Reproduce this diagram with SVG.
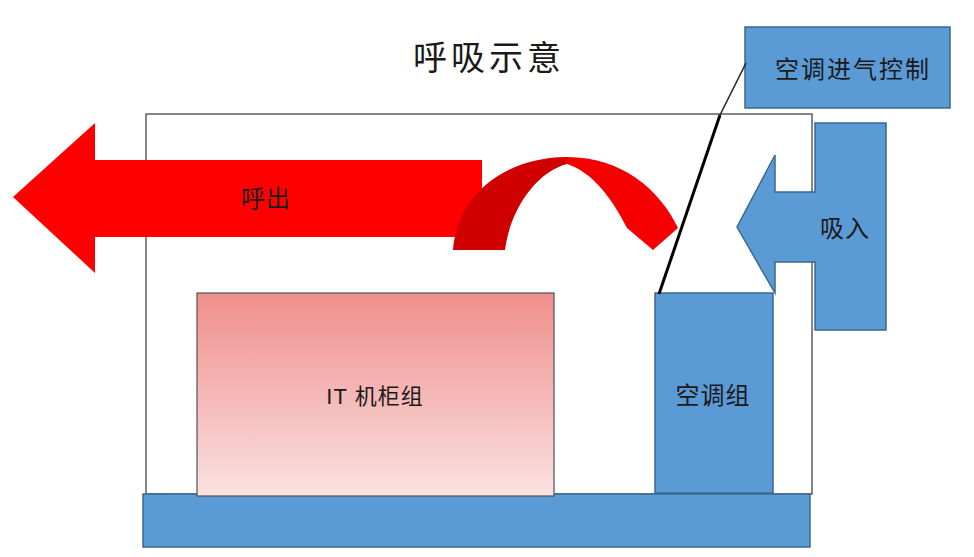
<svg xmlns="http://www.w3.org/2000/svg" width="974" height="557" viewBox="0 0 974 557">
<defs>
<linearGradient id="itg" x1="0" y1="0" x2="0" y2="1">
<stop offset="0" stop-color="#f08e8c"/>
<stop offset="1" stop-color="#f9e2e1"/>
</linearGradient>
<style>
.blue{fill:#5b9bd5;stroke:#3a6890;stroke-width:1.5}
.t{font-family:"Liberation Sans","Noto Sans CJK SC",sans-serif;font-size:24px;fill:#1a1a1a;text-anchor:middle;letter-spacing:1px}
</style>
</defs>
<rect width="974" height="557" fill="#ffffff"/>
<g id="title"><text class="t" x="489" y="70" style="font-size:34px;letter-spacing:4px">呼吸示意</text></g>
<g id="room"><rect x="146" y="114" width="666" height="380" fill="#ffffff" stroke="#5a5f63" stroke-width="1.5"/></g>
<g id="base"><rect class="blue" x="143" y="494" width="667" height="53"/></g>
<g id="it-cabinet">
<rect x="197" y="293" width="357" height="203" fill="url(#itg)" stroke="#4d5358" stroke-width="1.2"/>
<text class="t" x="375" y="404" style="font-size:22px">IT 机柜组</text>
</g>
<g id="ac-group">
<rect class="blue" x="655" y="293" width="118" height="200"/>
<text class="t" x="713" y="404">空调组</text>
</g>
<g id="exhale">
<polygon points="13,197 95,123 95,160 482,160 482,237 95,237 95,273" fill="#ff0000"/>
<path d="M453,250 C458,192 508,157 567,157 L567,164 C536,172 510,210 505,250 Z" fill="#d00000"/>
<path d="M567,157 C622,157 660,190 678,228 L653,250 L627,228 C612,198 592,172 567,164 Z" fill="#f40000"/>
<text class="t" x="266" y="207">呼出</text>
</g>
<g id="inhale">
<polygon class="blue" points="815,123 886,123 886,330 815,330 815,262 775,262 775,293 737,227 775,155 775,192 815,192"/>
<text class="t" x="845" y="237">吸入</text>
</g>
<g id="control">
<rect class="blue" x="745" y="27" width="205" height="81"/>
<text class="t" x="853" y="78" style="letter-spacing:2px">空调进气控制</text>
</g>
<g id="connectors">
<line x1="659" y1="294" x2="720" y2="115" stroke="#000" stroke-width="3"/>
<line x1="720" y1="115" x2="746" y2="63" stroke="#222" stroke-width="1.5"/>
</g>
</svg>
